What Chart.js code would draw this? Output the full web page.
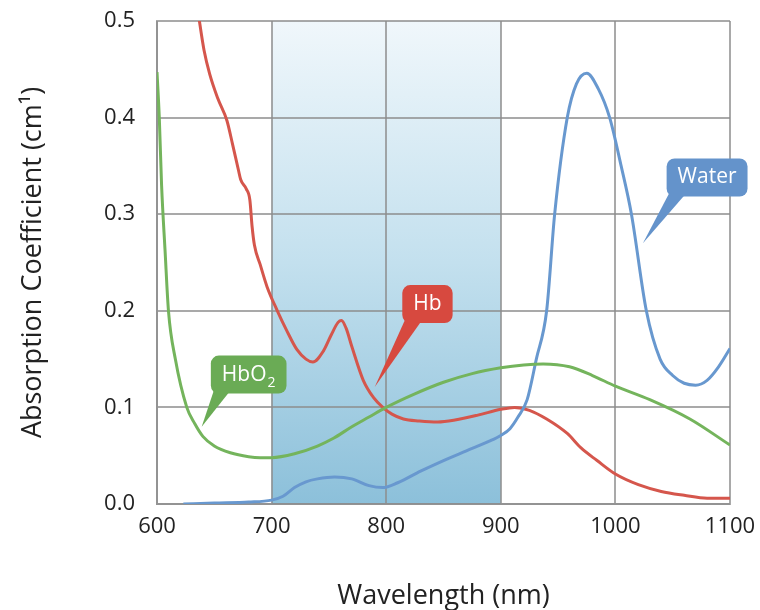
<!DOCTYPE html>
<html>
<head>
<meta charset="utf-8">
<title>Absorption spectra</title>
<script src="https://cdn.jsdelivr.net/npm/chart.js@4.4.0/dist/chart.umd.min.js"></script>
<style>
  body { margin: 0; background: #fff; }
  canvas { display: block; }
</style>
</head>
<body>
<canvas id="spectrumChart" width="760" height="610"></canvas>
<script>
// wavelengths (nm) and absorption values
const hbWavelengths = [630, 637, 641, 646, 653, 661, 666, 671, 673, 678, 681, 683, 685, 690, 696, 705, 713, 722, 730, 736, 745, 752, 758, 761, 765, 770, 780, 789, 797, 805, 815, 829, 845, 860, 880, 900, 912, 925, 940, 958, 970, 984, 1000, 1020, 1040, 1060, 1080, 1100];
const hbValues = [0.56, 0.5, 0.47, 0.445, 0.42, 0.397, 0.372, 0.346, 0.336, 0.326, 0.315, 0.287, 0.268, 0.248, 0.225, 0.2, 0.18, 0.16, 0.15, 0.147, 0.158, 0.175, 0.188, 0.19, 0.182, 0.163, 0.128, 0.11, 0.1, 0.093, 0.088, 0.086, 0.085, 0.087, 0.092, 0.098, 0.1, 0.097, 0.088, 0.073, 0.058, 0.045, 0.031, 0.02, 0.013, 0.009, 0.006, 0.006];

const hbo2Wavelengths = [600, 602, 604, 607, 610, 616, 626, 633, 640, 650, 664, 680, 690, 700, 720, 740, 754, 770, 785, 800, 825, 850, 875, 900, 920, 937, 960, 980, 1000, 1030, 1065, 1100];
const hbo2Values = [0.447, 0.4, 0.33, 0.263, 0.2, 0.15, 0.1, 0.083, 0.07, 0.06, 0.053, 0.049, 0.048, 0.048, 0.052, 0.06, 0.068, 0.08, 0.09, 0.1, 0.114, 0.126, 0.135, 0.141, 0.144, 0.145, 0.142, 0.133, 0.122, 0.108, 0.088, 0.061];

const waterWavelengths = [623, 650, 680, 700, 710, 720, 730, 740, 755, 770, 785, 797, 810, 830, 850, 870, 890, 900, 908, 915, 923, 931, 940, 947, 958, 966, 975, 985, 995, 1005, 1014, 1027, 1039, 1050, 1060, 1070, 1080, 1090, 1100];
const waterValues = [0, 0.001, 0.002, 0.004, 0.008, 0.017, 0.023, 0.026, 0.028, 0.026, 0.019, 0.017, 0.022, 0.034, 0.045, 0.055, 0.065, 0.071, 0.078, 0.09, 0.108, 0.15, 0.2, 0.3, 0.4, 0.435, 0.446, 0.43, 0.4, 0.35, 0.3, 0.2, 0.15, 0.133, 0.125, 0.123, 0.128, 0.142, 0.161];

const xTicks = [600, 700, 800, 900, 1000, 1100];
const yTicks = [0, 0.1, 0.2, 0.3, 0.4, 0.5];
const nirBand = [700, 900];

const RED = "#d5564c";
const GREEN = "#74b45c";
const BLUE = "#6898cf";
const FONT = "'Open Sans', 'DejaVu Sans', sans-serif";

// speech-bubble labels, anchored in data units
const callouts = [
  { text: "Water", sub: "", color: "#6493cb", box: [1080, 0.338], tip: [1024, 0.27] },
  { text: "Hb", sub: "", color: "#d7493f", box: [836, 0.207], tip: [790, 0.121] },
  { text: "HbO", sub: "2", color: "#6aab55", box: [680, 0.134], tip: [639, 0.08] },
];

const toPoints = (xs, ys) => xs.map((x, i) => ({ x: x, y: ys[i] }));

const bandPlugin = {
  id: "nirBand",
  beforeDraw(chart) {
    const { ctx, chartArea, scales } = chart;
    const x1 = scales.x.getPixelForValue(nirBand[0]);
    const x2 = scales.x.getPixelForValue(nirBand[1]);
    const grad = ctx.createLinearGradient(0, chartArea.top, 0, chartArea.bottom);
    grad.addColorStop(0, "#f0f7fb");
    grad.addColorStop(0.5, "#c3e0ee");
    grad.addColorStop(1, "#8cc0da");
    ctx.save();
    ctx.fillStyle = grad;
    ctx.fillRect(x1, chartArea.top, x2 - x1, chartArea.bottom - chartArea.top);
    ctx.restore();
  },
};

const calloutPlugin = {
  id: "callouts",
  afterDatasetsDraw(chart) {
    const { ctx, scales } = chart;
    ctx.save();
    callouts.forEach((c) => {
      ctx.font = "21px " + FONT;
      const mainW = ctx.measureText(c.text).width;
      ctx.font = "14px " + FONT;
      const subW = c.sub ? ctx.measureText(c.sub).width + 1 : 0;
      const w = mainW + subW + 22;
      const h = 38;
      const cx = scales.x.getPixelForValue(c.box[0]);
      const cy = scales.y.getPixelForValue(c.box[1]);
      const left = cx - w / 2;
      const top = cy - h / 2;
      const tx = scales.x.getPixelForValue(c.tip[0]);
      const ty = scales.y.getPixelForValue(c.tip[1]);

      ctx.fillStyle = c.color;
      ctx.beginPath();
      ctx.roundRect(left, top, w, h, 8);
      ctx.fill();
      ctx.beginPath();
      ctx.moveTo(left + 4, top + h - 6);
      ctx.lineTo(left + 22, top + h - 6);
      ctx.lineTo(tx, ty);
      ctx.closePath();
      ctx.fill();

      ctx.fillStyle = "#ffffff";
      ctx.textBaseline = "middle";
      ctx.textAlign = "left";
      ctx.font = "21px " + FONT;
      ctx.fillText(c.text, left + 11, cy);
      if (c.sub) {
        ctx.font = "14px " + FONT;
        ctx.fillText(c.sub, left + 11 + mainW + 1, cy + 8);
      }
    });
    ctx.restore();
  },
};

const lineStyle = (color) => ({
  borderColor: color,
  backgroundColor: color,
  borderWidth: 3,
  pointRadius: 0,
  fill: false,
  cubicInterpolationMode: "monotone",
  clip: 0,
});

const gridColor = "rgba(140, 140, 140, 0.75)";

new Chart(document.getElementById("spectrumChart").getContext("2d"), {
  type: "line",
  data: {
    datasets: [
      { label: "HbO2", data: toPoints(hbo2Wavelengths, hbo2Values), ...lineStyle(GREEN) },
      { label: "Water", data: toPoints(waterWavelengths, waterValues), ...lineStyle(BLUE) },
      { label: "Hb", data: toPoints(hbWavelengths, hbValues), ...lineStyle(RED) },
    ],
  },
  options: {
    responsive: false,
    animation: false,
    layout: { padding: { top: 21, right: 30, bottom: 0, left: 0 } },
    plugins: {
      legend: { display: false },
      tooltip: { enabled: false },
    },
    scales: {
      x: {
        type: "linear",
        min: xTicks[0],
        max: xTicks[xTicks.length - 1],
        afterBuildTicks: (axis) => { axis.ticks = xTicks.map((v) => ({ value: v })); },
        afterFit: (axis) => { axis.height = 106; },
        // invisible tick marks give the label gap without padding the chart edges
        grid: { color: gridColor, lineWidth: 2, drawTicks: true, tickLength: 8, tickColor: "rgba(0,0,0,0)" },
        border: { color: gridColor, width: 2 },
        ticks: {
          padding: 2,
          color: "#222",
          font: { family: FONT, size: 22 },
          callback: (v) => String(v),
        },
        title: {
          display: true,
          text: "Wavelength (nm)",
          color: "#222",
          font: { family: FONT, size: 27, lineHeight: 1 },
          padding: { top: 0, bottom: 0 },
        },
      },
      y: {
        min: yTicks[0],
        max: yTicks[yTicks.length - 1],
        afterBuildTicks: (axis) => { axis.ticks = yTicks.map((v) => ({ value: v })); },
        afterFit: (axis) => { axis.width = 157; },
        grid: { color: gridColor, lineWidth: 2, drawTicks: true, tickLength: 20, tickColor: "rgba(0,0,0,0)" },
        border: { color: gridColor, width: 2 },
        ticks: {
          padding: 2,
          color: "#222",
          font: { family: FONT, size: 22 },
          callback: (v) => Number(v).toFixed(1),
        },
        title: {
          display: true,
          text: "Absorption Coefficient (cm¹)",
          color: "#222",
          font: { family: FONT, size: 27, lineHeight: 1 },
          padding: { top: 20, bottom: 0 },
        },
      },
    },
  },
  plugins: [bandPlugin, calloutPlugin],
});
</script>
</body>
</html>
